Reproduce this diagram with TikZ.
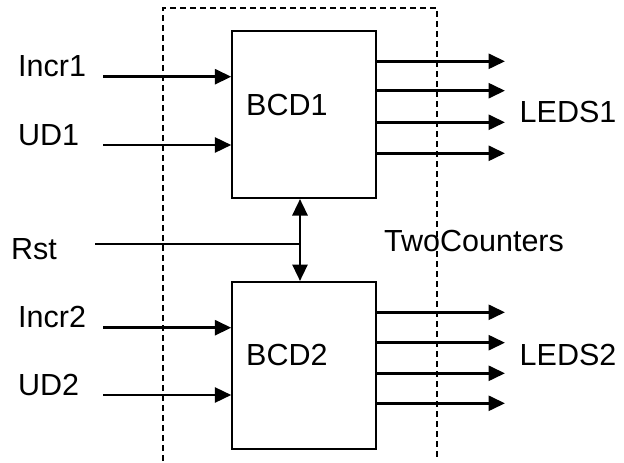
\documentclass[tikz,border=0pt]{standalone}
\usepackage{fontspec}
\setmainfont{Liberation Sans}
\usetikzlibrary{arrows.meta}
\begin{document}
\begin{tikzpicture}[x=1pt,y=-1pt,
  lbl/.style={inner sep=0pt,anchor=base west,font=\fontsize{30.5}{36}\selectfont},
  blk/.style={draw,line width=2pt,minimum width=144pt,minimum height=167pt,inner sep=0pt},
  sig/.style={line width=2.8pt,-{Triangle[length=16.5pt,width=15pt]}},
  dsig/.style={line width=2.8pt,{Triangle[length=16.5pt,width=15pt]}-{Triangle[length=16.5pt,width=15pt]}},
  wire/.style={line width=2.2pt},
  frame/.style={line width=1.5pt,dash pattern=on 6pt off 4pt}]
\useasboundingbox (0,0) rectangle (624,463);
% frame
\coordinate (fbl) at (163,461);
\coordinate (ftl) at (163,8);
\coordinate (ftr) at (437,8);
\coordinate (fbr) at (437,459);
\draw[frame] (fbl) -- (ftl) -- (ftr) -- (fbr);
% blocks
\node[blk] (bcd1) at (304.3,114.5) {};
\node[blk] (bcd2) at (304.3,365.5) {};
\node[lbl] (t1) at (246,115) {BCD1};
\node[lbl] (t2) at (246,365) {BCD2};
% labels
\node[lbl] (incr1) at (18,76) {Incr1};
\node[lbl] (ud1) at (18,145.3) {UD1};
\node[lbl] (rst) at (11,259) {Rst};
\node[lbl] (incr2) at (18,327.3) {Incr2};
\node[lbl] (ud2) at (18,395) {UD2};
\node[lbl] (leds1) at (519.5,122) {LEDS1};
\node[lbl] (leds2) at (519.5,365) {LEDS2};
\node[lbl] (two) at (384,251.7) {TwoCounters};
% input arrows
\coordinate (a1) at (103,76.7);
\coordinate (a2) at (103,145);
\coordinate (a3) at (103,327.7);
\coordinate (a4) at (103,395);
\draw[sig] (a1) -- (a1 -| bcd1.west);
\draw[sig] (a2) -- (a2 -| bcd1.west);
\draw[sig] (a3) -- (a3 -| bcd2.west);
\draw[sig] (a4) -- (a4 -| bcd2.west);
% reset
\coordinate (rs) at (95,244);
\coordinate (rj) at (300,244);
\draw[wire] (rs) -- (rj);
\draw[dsig] (rj |- bcd1.south) -- (rj |- bcd2.north);
% outputs
\foreach \y [count=\i] in {61.3,90.7,122.3,153.3} {
  \coordinate (o1\i) at (505,\y);
  \draw[sig] (o1\i -| bcd1.east) -- (o1\i);
}
\foreach \y [count=\i] in {312.3,342.7,373.3,403.3} {
  \coordinate (o2\i) at (505,\y);
  \draw[sig] (o2\i -| bcd2.east) -- (o2\i);
}
\end{tikzpicture}
\end{document}
